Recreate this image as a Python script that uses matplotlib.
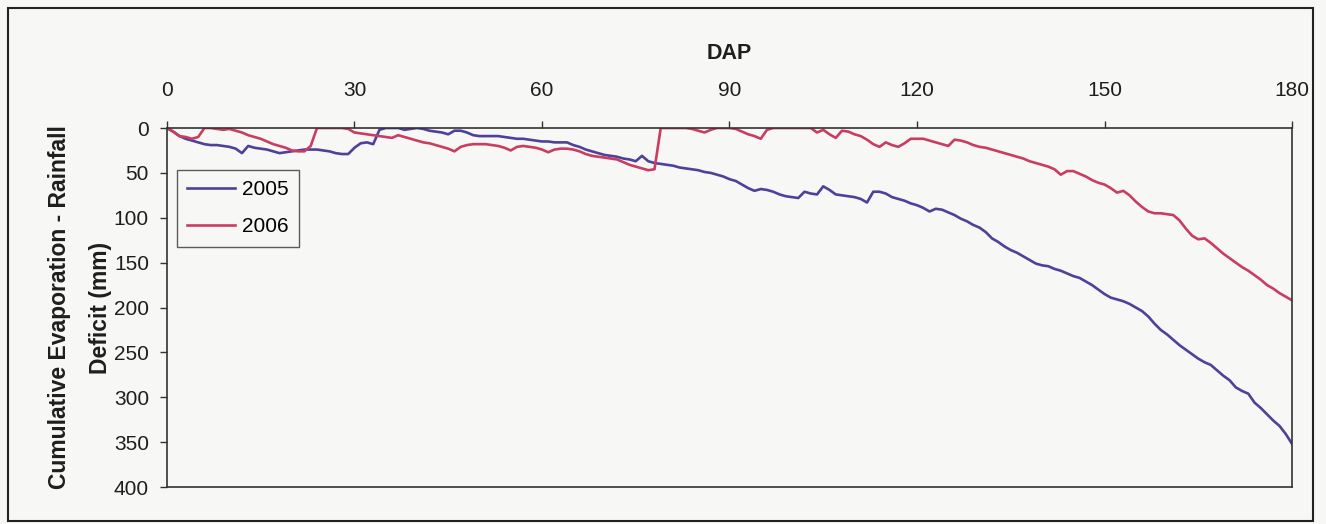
import matplotlib.pyplot as plt
from matplotlib.patches import Rectangle

plt.rcParams['font.family'] = ['Liberation Sans', 'DejaVu Sans']

# Cumulative evaporation - rainfall deficit (mm) against days after planting
dap = list(range(0, 181))

deficit_2005 = [
    0, 4, 9, 12, 14, 16, 18, 19, 19, 20, 21, 23, 28, 20, 22, 23, 24, 26, 28, 27,
    26, 25, 24, 24, 24, 25, 26, 28, 29, 29, 22, 17, 16, 18, 2, 0, 0, 0, 2, 1,
    0, 1, 3, 4, 5, 7, 3, 3, 5, 8, 9, 9, 9, 9, 10, 11, 12, 12, 13, 14,
    15, 15, 16, 16, 16, 19, 21, 24, 26, 28, 30, 31, 32, 34, 35, 37, 31, 37, 39, 40,
    41, 42, 44, 45, 46, 47, 49, 50, 52, 54, 57, 59, 63, 67, 70, 68, 69, 71, 74, 76,
    77, 78, 71, 73, 74, 65, 69, 74, 75, 76, 77, 79, 83, 71, 71, 73, 77, 79, 81, 84,
    86, 89, 93, 90, 91, 94, 97, 101, 104, 108, 111, 116, 123, 127, 132, 136, 139, 143, 147, 151,
    153, 154, 157, 159, 162, 165, 167, 171, 175, 180, 185, 189, 191, 193, 196, 200, 204, 210, 218, 225,
    230, 236, 242, 247, 252, 257, 261, 264, 270, 276, 281, 289, 293, 296, 306, 312, 319, 326, 332, 341,
    352,
]

deficit_2006 = [
    0, 4, 9, 10, 12, 10, 0, 0, 1, 2, 1, 3, 5, 8, 10, 12, 15, 18, 20, 22,
    25, 26, 26, 20, 0, 0, 0, 0, 0, 1, 5, 6, 7, 8, 9, 10, 11, 8, 10, 12,
    14, 16, 17, 19, 21, 23, 26, 21, 19, 18, 18, 18, 19, 20, 22, 25, 21, 20, 21, 22,
    24, 27, 24, 23, 23, 24, 26, 29, 31, 32, 33, 34, 35, 38, 41, 43, 45, 47, 46, 0,
    0, 0, 0, 0, 1, 3, 5, 2, 0, 0, 0, 1, 4, 7, 9, 12, 2, 0, 0, 0,
    0, 0, 0, 0, 5, 2, 7, 11, 3, 4, 7, 9, 13, 18, 21, 16, 19, 21, 17, 12,
    12, 12, 14, 16, 18, 20, 13, 14, 16, 19, 21, 22, 24, 26, 28, 30, 32, 34, 37, 39,
    41, 43, 46, 52, 48, 48, 51, 54, 58, 61, 63, 67, 72, 70, 75, 82, 88, 93, 95, 95,
    96, 97, 103, 112, 120, 124, 123, 128, 134, 140, 145, 150, 155, 159, 164, 169, 175, 179, 184, 188,
    192,
]

x_ticks = [0, 30, 60, 90, 120, 150, 180]
y_ticks = [0, 50, 100, 150, 200, 250, 300, 350, 400]

bg = '#f7f7f5'
fig = plt.figure(figsize=(13.26, 5.24), dpi=100, facecolor=bg)
ax = fig.add_axes([0.1259, 0.0706, 0.8485, 0.6851])
ax.set_facecolor(bg)

ax.plot(dap, deficit_2005, color='#4d4199', lw=1.9, label='2005')
ax.plot(dap, deficit_2006, color='#c93d62', lw=1.9, label='2006')

ax.set_xlim(0, 180)
ax.set_ylim(400, 0)
ax.set_xticks(x_ticks)
ax.set_yticks(y_ticks)

ax.xaxis.tick_top()
ax.xaxis.set_label_position('top')
ax.tick_params(axis='both', direction='out', length=5, width=1,
               colors='#333333', labelcolor='#1e1e1e', labelsize=15)
ax.tick_params(axis='x', pad=15)
ax.tick_params(axis='y', pad=8)
for s in ax.spines.values():
    s.set_color('#333333')
    s.set_linewidth(1.2)

ax.set_xlabel('DAP', fontsize=15.5, fontweight='bold', labelpad=16, color='#1e1e1e')
ax.set_ylabel('Cumulative Evaporation - Rainfall\nDeficit (mm)', color='#1e1e1e',
              fontsize=16.5, fontweight='bold', labelpad=1, linespacing=2.0)

leg = ax.legend(loc='upper left', bbox_to_anchor=(0.009, 0.883), fontsize=15,
                frameon=True, fancybox=False, handlelength=2.3,
                handletextpad=0.3, borderpad=0.5, labelspacing=0.85,
                borderaxespad=0)
leg.get_frame().set_edgecolor('#333333')
leg.get_frame().set_linewidth(1.0)
leg.get_frame().set_facecolor(bg)

# frame round the whole chart
fig.patches.append(Rectangle((0.006, 0.0057), 0.984, 0.979, transform=fig.transFigure,
                             fill=False, edgecolor='#222222', linewidth=1.5))

fig.savefig('out.png', dpi=100, facecolor=fig.get_facecolor())
